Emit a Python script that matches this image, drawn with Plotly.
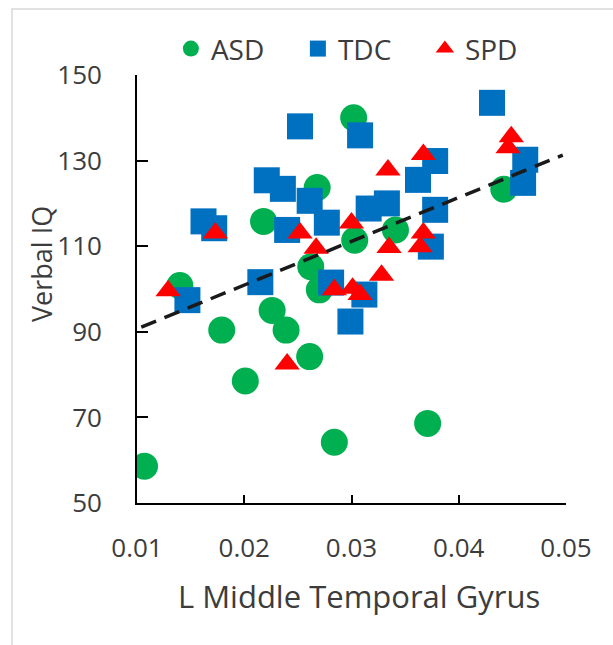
import plotly.graph_objects as go

# ---- data ----
asd_x = [0.0107, 0.0140, 0.0179, 0.0201, 0.0218, 0.0226, 0.0239, 0.0261, 0.0268,
         0.0262, 0.0270, 0.0284, 0.0302, 0.0303, 0.0341, 0.0371, 0.0442]
asd_y = [58.6, 100.8, 90.4, 78.5, 115.8, 95.0, 90.4, 84.2, 123.7,
         105.2, 99.8, 64.2, 140.0, 111.4, 113.8, 68.6, 123.3]

tdc_x = [0.0147, 0.0162, 0.0172, 0.0215, 0.0221, 0.0236, 0.0240, 0.0252, 0.0261,
         0.0277, 0.0281, 0.0299, 0.0308, 0.0312, 0.0316, 0.0333, 0.0362, 0.0378,
         0.0378, 0.0374, 0.0431, 0.0462, 0.0460]
tdc_y = [97.4, 115.8, 114.2, 101.6, 125.4, 123.4, 113.8, 138.0, 120.6,
         115.5, 101.5, 92.4, 135.9, 98.7, 118.8, 120.0, 125.5, 129.9,
         118.5, 109.9, 143.5, 130.2, 124.8]

spd_x = [0.0129, 0.0173, 0.0240, 0.0252, 0.0267, 0.0284, 0.0300, 0.0301, 0.0308,
         0.0328, 0.0335, 0.0334, 0.0364, 0.0367, 0.0367, 0.0446, 0.0449]
spd_y = [99.6, 113.1, 82.5, 113.1, 109.5, 99.8, 115.4, 100.2, 98.7,
         103.2, 109.7, 127.8, 109.9, 113.1, 131.4, 133.0, 135.6]

trend_x = [0.0104, 0.0497]
trend_y = [91.1, 131.3]

x_ticks = [0.01, 0.02, 0.03, 0.04, 0.05]
x_ticklabels = ["0.01", "0.02", "0.03", "0.04", "0.05"]
y_ticks = [50, 70, 90, 110, 130, 150]

FONT = "Open Sans"
TXT = "#3c3c3c"

fig = go.Figure()
fig.add_trace(go.Scatter(x=asd_x, y=asd_y, mode="markers", name="ASD",
                         marker=dict(symbol="circle", size=27, color="#00B050")))
fig.add_trace(go.Scatter(x=tdc_x, y=tdc_y, mode="markers", name="TDC",
                         marker=dict(symbol="square", size=26, color="#0070C0")))
fig.add_trace(go.Scatter(x=spd_x, y=spd_y, mode="markers", name="SPD",
                         marker=dict(symbol="triangle-up", size=22, color="#FF0000")))
fig.add_trace(go.Scatter(x=trend_x, y=trend_y, mode="lines", showlegend=False,
                         line=dict(color="#1a1a1a", width=3.5, dash="16px,9px")))

fig.update_layout(
    width=613, height=645, autosize=False,
    margin=dict(l=137, r=47, t=75, b=142, pad=0),
    paper_bgcolor="white", plot_bgcolor="white",
    font=dict(family=FONT, color=TXT, size=26),
    showlegend=True,
    legend=dict(orientation="h", x=0.079, xanchor="left", y=1.061, yanchor="middle",
                font=dict(size=28, family=FONT, color=TXT),
                entrywidth=82, entrywidthmode="pixels",
                bgcolor="rgba(0,0,0,0)", borderwidth=0),
    xaxis=dict(range=[0.01, 0.05], tickvals=x_ticks, ticktext=x_ticklabels,
               showgrid=False, zeroline=False, showline=True, linecolor="black",
               linewidth=1.8, ticks="inside", ticklen=8, tickwidth=1.6, tickcolor="black",
               ticklabelstandoff=21, tickfont=dict(size=26, family=FONT, color=TXT)),
    yaxis=dict(range=[50, 150], tickvals=y_ticks,
               showgrid=False, zeroline=False, showline=True, linecolor="black",
               linewidth=1.8, ticks="inside", ticklen=11, tickwidth=1.6, tickcolor="black",
               ticklabelstandoff=28, tickfont=dict(size=26, family=FONT, color=TXT)),
    annotations=[
        dict(text="L Middle Temporal Gyrus", xref="paper", yref="paper",
             x=(359 - 137) / 429, y=(503 - 596) / 428, xanchor="center", yanchor="middle",
             showarrow=False, font=dict(size=31, family=FONT, color=TXT)),
        dict(text="Verbal IQ", xref="paper", yref="paper", textangle=-90,
             x=(41 - 137) / 429, y=(503 - 264) / 428, xanchor="center", yanchor="middle",
             showarrow=False, font=dict(size=27, family=FONT, color=TXT)),
    ],
    shapes=[
        dict(type="rect", xref="paper", yref="paper",
             x0=(12 - 137) / 429, x1=(640 - 137) / 429,
             y0=(503 - 680) / 428, y1=(503 - 9) / 428,
             line=dict(color="#d9d9d9", width=1.5), fillcolor="rgba(0,0,0,0)", layer="below"),
    ],
)

fig.write_html("out.html")
